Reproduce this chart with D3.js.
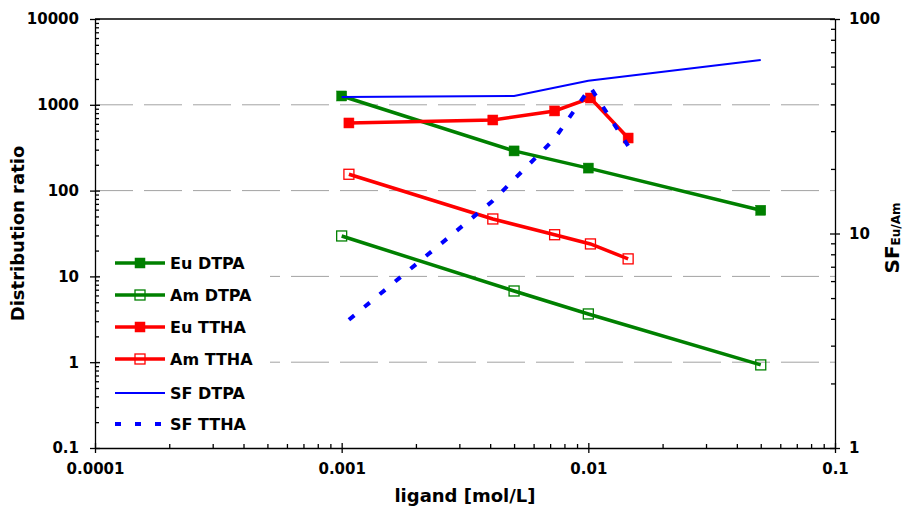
<!DOCTYPE html>
<html>
<head>
<meta charset="utf-8">
<script src="https://cdn.jsdelivr.net/npm/d3@7"></script>
<style>
  body { margin: 0; background: #fff; }
  text { font-family: "DejaVu Sans", sans-serif; font-weight: bold; fill: #000; }
  .axis path, .axis line { stroke: #000; stroke-width: 1.3; }
</style>
</head>
<body>
<div id="chart"></div>
<script>
// ligand concentrations (mol/L)
var dtpaConc = [0.001, 0.005, 0.01, 0.05];
var tthaConc = [0.00107, 0.0041, 0.0073, 0.0102, 0.0145];

// distribution ratios (left axis)
var euDTPA = [1267, 290, 183, 59];
var amDTPA = [29.6, 6.76, 3.65, 0.93];
var euTTHA = [614, 665, 848, 1200, 410];
var amTTHA = [155, 46.7, 30.6, 23.9, 16.0];

// separation factors (right axis)
var sfDTPA = [43.3, 43.8, 51.5, 64.4];
var sfTTHA = [3.96, 14.2, 27.7, 48, 25.6];

var xTicks = [0.0001, 0.001, 0.01, 0.1];
var xTickLabels = ["0.0001", "0.001", "0.01", "0.1"];
var yTicks = [0.1, 1, 10, 100, 1000, 10000];
var yTickLabels = ["0.1", "1", "10", "100", "1000", "10000"];
var rTicks = [1, 10, 100];
var rTickLabels = ["1", "10", "100"];

var svgWidth = 907, svgHeight = 510;
var plot = { left: 95, right: 835, top: 19, bottom: 448 };

var svg = d3.select("#chart").append("svg")
  .attr("width", svgWidth)
  .attr("height", svgHeight);

var x = d3.scaleLog().domain([0.0001, 0.1]).range([plot.left, plot.right]);
var yL = d3.scaleLog().domain([0.1, 10000]).range([plot.bottom, plot.top]);
var yR = d3.scaleLog().domain([1, 100]).range([plot.bottom, plot.top]);

function minorTicks(lo, hi) {
  var out = [];
  for (var d = lo; d < hi; d *= 10) {
    for (var k = 2; k <= 9; k++) out.push(d * k);
  }
  return out;
}

// dashed gridlines
svg.append("g").selectAll("line")
  .data([1, 10, 100, 1000])
  .enter().append("line")
  .attr("x1", plot.left)
  .attr("x2", plot.right)
  .attr("y1", d => yL(d))
  .attr("y2", d => yL(d))
  .attr("stroke", "#a3a3a3")
  .attr("stroke-width", 1)
  .attr("stroke-dasharray", "38,11");

// legend background hides the gridlines behind it
svg.append("rect")
  .attr("x", 100).attr("y", 245)
  .attr("width", 170).attr("height", 195)
  .attr("fill", "#fff");

// top frame line
svg.append("line")
  .attr("x1", plot.left).attr("x2", plot.right)
  .attr("y1", plot.top).attr("y2", plot.top)
  .attr("stroke", "#000").attr("stroke-width", 1.3);

// minor ticks (inside)
svg.append("g").attr("class", "axis")
  .attr("transform", "translate(" + plot.left + ",0)")
  .call(d3.axisLeft(yL).tickValues(minorTicks(0.1, 10000)).tickSize(-4).tickFormat(""))
  .select(".domain").remove();
svg.append("g").attr("class", "axis")
  .attr("transform", "translate(0," + plot.bottom + ")")
  .call(d3.axisBottom(x).tickValues(minorTicks(0.0001, 0.1)).tickSize(-4).tickFormat(""))
  .select(".domain").remove();
svg.append("g").attr("class", "axis")
  .attr("transform", "translate(" + plot.right + ",0)")
  .call(d3.axisRight(yR).tickValues(minorTicks(1, 100)).tickSize(-4).tickFormat(""))
  .select(".domain").remove();

// major axes
var leftAxis = svg.append("g").attr("class", "axis")
  .attr("transform", "translate(" + plot.left + ",0)")
  .call(d3.axisLeft(yL).tickValues(yTicks).tickSize(5).tickSizeOuter(0).tickPadding(11)
    .tickFormat((d, i) => yTickLabels[i]));
leftAxis.selectAll(".tick line").attr("x1", 5);

var bottomAxis = svg.append("g").attr("class", "axis")
  .attr("transform", "translate(0," + plot.bottom + ")")
  .call(d3.axisBottom(x).tickValues(xTicks).tickSize(5).tickSizeOuter(0).tickPadding(10)
    .tickFormat((d, i) => xTickLabels[i]));
bottomAxis.selectAll(".tick line").attr("y1", -5);

var rightAxis = svg.append("g").attr("class", "axis")
  .attr("transform", "translate(" + plot.right + ",0)")
  .call(d3.axisRight(yR).tickValues(rTicks).tickSize(5).tickSizeOuter(0).tickPadding(9)
    .tickFormat((d, i) => rTickLabels[i]));
rightAxis.selectAll(".tick line").attr("x1", -5);

svg.selectAll(".axis text").style("font-size", "15px").attr("fill", "#000");

// axis titles
svg.append("text")
  .attr("transform", "translate(24," + ((plot.top + plot.bottom) / 2) + ") rotate(-90)")
  .attr("text-anchor", "middle")
  .style("font-size", "18px")
  .text("Distribution ratio");

svg.append("text")
  .attr("x", (plot.left + plot.right) / 2)
  .attr("y", 502)
  .attr("text-anchor", "middle")
  .style("font-size", "18px")
  .text("ligand [mol/L]");

var sfTitle = svg.append("text")
  .attr("transform", "translate(899,238) rotate(-90)")
  .attr("text-anchor", "middle")
  .style("font-size", "20px");
sfTitle.append("tspan").text("SF");
sfTitle.append("tspan").attr("dy", 1).style("font-size", "12px").text("Eu/Am");

// series
var series = [
  { name: "Eu DTPA", xs: dtpaConc, ys: euDTPA, axis: yL, color: "#008000", width: 3.5, marker: "filled" },
  { name: "Am DTPA", xs: dtpaConc, ys: amDTPA, axis: yL, color: "#008000", width: 3.5, marker: "open" },
  { name: "Eu TTHA", xs: tthaConc, ys: euTTHA, axis: yL, color: "#ff0000", width: 3.5, marker: "filled" },
  { name: "Am TTHA", xs: tthaConc, ys: amTTHA, axis: yL, color: "#ff0000", width: 3.5, marker: "open" },
  { name: "SF DTPA", xs: dtpaConc, ys: sfDTPA, axis: yR, color: "#0000ff", width: 2, marker: null },
  { name: "SF TTHA", xs: tthaConc, ys: sfTTHA, axis: yR, color: "#0000ff", width: 4, marker: null, dash: "7,13" }
];

function drawMarker(g, kind, color, cx, cy) {
  if (!kind) return;
  g.append("rect")
    .attr("x", cx - 5).attr("y", cy - 5)
    .attr("width", 10).attr("height", 10)
    .attr("fill", kind === "filled" ? color : "none")
    .attr("stroke", color)
    .attr("stroke-width", kind === "filled" ? 0.5 : 1.3);
}

series.forEach(function(s) {
  var pts = s.xs.map((v, i) => [x(v), s.axis(s.ys[i])]);
  svg.append("path")
    .attr("d", d3.line()(pts))
    .attr("fill", "none")
    .attr("stroke", s.color)
    .attr("stroke-width", s.width)
    .attr("stroke-dasharray", s.dash || null);
  var g = svg.append("g");
  pts.forEach(p => drawMarker(g, s.marker, s.color, p[0], p[1]));
});

// legend
var legendRows = [263, 295, 327, 359, 393, 424];
series.forEach(function(s, i) {
  var y = legendRows[i];
  var g = svg.append("g");
  g.append("line")
    .attr("x1", 115).attr("x2", 165)
    .attr("y1", y).attr("y2", y)
    .attr("stroke", s.color)
    .attr("stroke-width", s.width)
    .attr("stroke-dasharray", s.dash ? "6,14" : null);
  drawMarker(g, s.marker, s.color, 140, y);
  g.append("text")
    .attr("x", 170).attr("y", y)
    .attr("dy", "0.36em")
    .style("font-size", "16px")
    .text(s.name);
});
</script>
</body>
</html>
